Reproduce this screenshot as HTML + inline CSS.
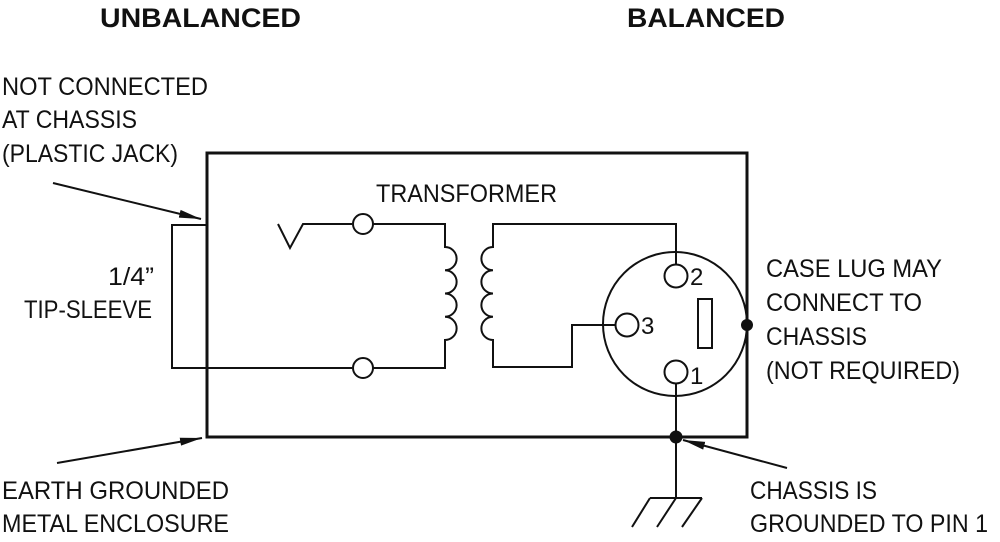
<!DOCTYPE html>
<html>
<head>
<meta charset="utf-8">
<style>
html,body{margin:0;padding:0;background:#fff;}
svg{display:block;}
text{font-family:"Liberation Sans",sans-serif;fill:#111;}
</style>
</head>
<body>
<svg width="1000" height="542" viewBox="0 0 1000 542" xmlns="http://www.w3.org/2000/svg">
<defs>
<marker id="ah" markerWidth="24" markerHeight="10" refX="22" refY="5" orient="auto" markerUnits="userSpaceOnUse">
<path d="M0,1 L22,5 L0,9 Z" fill="#111"/>
</marker>
</defs>
<rect width="1000" height="542" fill="#fff"/>

<!-- Headings -->
<text x="100" y="27" font-size="27" font-weight="bold" textLength="201" lengthAdjust="spacingAndGlyphs">UNBALANCED</text>
<text x="627" y="27" font-size="27" font-weight="bold" textLength="158" lengthAdjust="spacingAndGlyphs">BALANCED</text>

<!-- Left labels -->
<text x="2" y="95" font-size="25" textLength="206" lengthAdjust="spacingAndGlyphs">NOT CONNECTED</text>
<text x="2" y="128" font-size="25" textLength="135" lengthAdjust="spacingAndGlyphs">AT CHASSIS</text>
<text x="2" y="162" font-size="25" textLength="176" lengthAdjust="spacingAndGlyphs">(PLASTIC JACK)</text>
<text x="108" y="285" font-size="25" textLength="46" lengthAdjust="spacingAndGlyphs">1/4”</text>
<text x="24" y="318" font-size="25" textLength="128" lengthAdjust="spacingAndGlyphs">TIP-SLEEVE</text>
<text x="2" y="499" font-size="25" textLength="227" lengthAdjust="spacingAndGlyphs">EARTH GROUNDED</text>
<text x="2" y="532" font-size="25" textLength="227" lengthAdjust="spacingAndGlyphs">METAL ENCLOSURE</text>

<!-- Center label -->
<text x="376" y="202" font-size="25" textLength="181" lengthAdjust="spacingAndGlyphs">TRANSFORMER</text>

<!-- Right labels -->
<text x="766" y="277" font-size="25" textLength="176" lengthAdjust="spacingAndGlyphs">CASE LUG MAY</text>
<text x="766" y="311" font-size="25" textLength="156" lengthAdjust="spacingAndGlyphs">CONNECT TO</text>
<text x="766" y="345" font-size="25" textLength="101" lengthAdjust="spacingAndGlyphs">CHASSIS</text>
<text x="766" y="379" font-size="25" textLength="194" lengthAdjust="spacingAndGlyphs">(NOT REQUIRED)</text>
<text x="750" y="499" font-size="25" textLength="127" lengthAdjust="spacingAndGlyphs">CHASSIS IS</text>
<text x="750" y="532" font-size="25" textLength="238" lengthAdjust="spacingAndGlyphs">GROUNDED TO PIN 1</text>

<!-- Main enclosure -->
<rect x="207" y="153" width="540" height="284" fill="none" stroke="#111" stroke-width="3"/>

<g fill="none" stroke="#111" stroke-width="2">
<!-- Jack loop -->
<path d="M207,225 H172 V368 H352"/>
<!-- V tip contact -->
<path d="M278,224 L290,248 L303,224 H352"/>
<circle cx="363" cy="224" r="10" fill="#fff"/>
<circle cx="363" cy="368" r="10" fill="#fff"/>
<!-- Primary coil -->
<path d="M373,224 H445 V247 a11.5,11.5 0 0 1 0,23.25 a11.5,11.5 0 0 1 0,23.25 a11.5,11.5 0 0 1 0,23.25 a11.5,11.5 0 0 1 0,23.25 V368 H373"/>
<!-- Secondary coil -->
<path d="M676,264 V224 H493 V247 a11.5,11.5 0 0 0 0,23.25 a11.5,11.5 0 0 0 0,23.25 a11.5,11.5 0 0 0 0,23.25 a11.5,11.5 0 0 0 0,23.25 V367 H572 V325 H615"/>
<!-- XLR body -->
<circle cx="675" cy="324" r="72"/>
<circle cx="676" cy="276" r="11.5" fill="#fff"/>
<circle cx="627" cy="325" r="11.5" fill="#fff"/>
<circle cx="676" cy="372" r="11.5" fill="#fff"/>
<rect x="698" y="299" width="14" height="49" fill="#fff"/>
<!-- Pin 1 to chassis and ground -->
<path d="M676,384 V498"/>
<path d="M650,498 H702 M650,498 L632,527 M676,498 L657,527 M702,498 L682,527"/>
</g>

<!-- Pin numbers -->
<text x="690" y="285" font-size="24">2</text>
<text x="641" y="334" font-size="24">3</text>
<text x="690" y="384" font-size="24">1</text>

<!-- Dots -->
<circle cx="747" cy="325" r="6" fill="#111"/>
<circle cx="676" cy="437" r="6.5" fill="#111"/>

<!-- Leader arrows -->
<g stroke="#111" stroke-width="2" fill="none">
<line x1="53" y1="183" x2="201" y2="219" marker-end="url(#ah)"/>
<line x1="57" y1="463" x2="202" y2="438" marker-end="url(#ah)"/>
<line x1="787" y1="468" x2="683" y2="440" marker-end="url(#ah)"/>
</g>
</svg>
</body>
</html>
